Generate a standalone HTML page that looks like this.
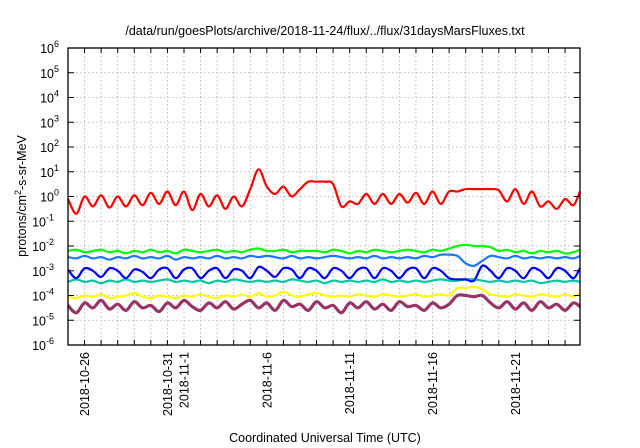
<!DOCTYPE html>
<html><head><meta charset="utf-8"><style>
body{margin:0;background:#fff;}
svg{display:block;font-family:"Liberation Sans",sans-serif;}
</style></head><body>
<svg id="chart" width="640" height="448" viewBox="0 0 640 448">
<text x="325" y="35" text-anchor="middle" font-size="12.5">/data/run/goesPlots/archive/2018-11-24/flux/../flux/31daysMarsFluxes.txt</text>
<g id="grid"></g>
<g id="series"></g>
<rect x="68" y="48" width="512" height="297" fill="none" stroke="#000" stroke-width="1.3"/>
<g id="axes"></g>
<text transform="translate(26,196) rotate(-90)" text-anchor="middle" font-size="12.5">protons/cm<tspan dy="-5" font-size="9">2</tspan><tspan dy="5">-s-sr-MeV</tspan></text>
<text x="325" y="442" text-anchor="middle" font-size="12.5">Coordinated Universal Time (UTC)</text>
</svg>
<script>
const xTickDays=[1,6,7,12,17,22,27];
const xTickLabels=["2018-10-26","2018-10-31","2018-11-1","2018-11-6","2018-11-11","2018-11-16","2018-11-21"];
const yTickExps=[-6,-5,-4,-3,-2,-1,0,1,2,3,4,5,6];
const redLog=[-0.1,-0.7,0,-0.4,0.05,-0.45,0,-0.4,0.05,-0.35,0.15,-0.3,0.2,-0.35,0.2,-0.55,0.1,-0.4,0.05,-0.5,0,-0.4,0.3,1.1,0.4,0.1,0.4,0,0.3,0.6,0.6,0.6,0.5,-0.4,-0.2,-0.3,0.1,-0.3,0.1,-0.3,0.1,-0.25,0.15,-0.3,0.2,-0.3,0.2,0.2,0.3,0.3,0.3,0.3,0.25,-0.2,0.3,-0.3,0.2,-0.4,-0.2,-0.5,-0.1,-0.35,0.2];
const greenLog=[-2.2,-2.15,-2.25,-2.2,-2.15,-2.25,-2.2,-2.3,-2.2,-2.25,-2.15,-2.25,-2.2,-2.3,-2.15,-2.2,-2.25,-2.2,-2.15,-2.25,-2.2,-2.25,-2.15,-2.1,-2.2,-2.2,-2.15,-2.25,-2.2,-2.2,-2.2,-2.25,-2.15,-2.2,-2.3,-2.2,-2.25,-2.15,-2.2,-2.25,-2.2,-2.15,-2.2,-2.25,-2.15,-2.2,-2.1,-2.0,-1.95,-2.0,-2.0,-2.05,-2.2,-2.15,-2.25,-2.2,-2.3,-2.2,-2.25,-2.2,-2.3,-2.25,-2.15];
const skyLog=[-2.45,-2.5,-2.4,-2.5,-2.45,-2.55,-2.45,-2.5,-2.4,-2.5,-2.45,-2.5,-2.4,-2.55,-2.45,-2.5,-2.45,-2.5,-2.4,-2.5,-2.45,-2.5,-2.4,-2.45,-2.4,-2.45,-2.5,-2.4,-2.5,-2.45,-2.5,-2.45,-2.4,-2.45,-2.5,-2.45,-2.5,-2.4,-2.5,-2.45,-2.5,-2.45,-2.5,-2.4,-2.45,-2.35,-2.35,-2.4,-2.7,-2.8,-2.6,-2.4,-2.45,-2.5,-2.4,-2.5,-2.45,-2.5,-2.45,-2.5,-2.45,-2.5,-2.4];
const blueLog=[-2.95,-3.3,-2.9,-3.0,-3.25,-2.9,-3.0,-3.3,-2.95,-3.05,-3.3,-2.95,-2.9,-3.3,-2.95,-2.9,-3.3,-3.0,-2.9,-3.3,-2.95,-3.0,-3.3,-2.85,-3.0,-3.25,-2.9,-2.95,-3.3,-2.9,-3.0,-3.3,-2.9,-3.0,-3.3,-2.95,-2.9,-3.3,-2.9,-3.0,-3.3,-2.95,-2.9,-3.3,-2.9,-3.0,-3.3,-3.35,-3.35,-3.4,-2.8,-3.0,-3.3,-2.9,-3.0,-3.3,-2.9,-3.0,-3.3,-2.9,-3.0,-3.3,-2.9];
const tealLog=[-3.45,-3.35,-3.45,-3.4,-3.5,-3.4,-3.45,-3.35,-3.45,-3.4,-3.45,-3.4,-3.35,-3.45,-3.4,-3.45,-3.4,-3.5,-3.4,-3.45,-3.35,-3.4,-3.45,-3.4,-3.45,-3.4,-3.45,-3.35,-3.4,-3.45,-3.4,-3.5,-3.4,-3.45,-3.4,-3.45,-3.4,-3.45,-3.35,-3.45,-3.4,-3.45,-3.4,-3.45,-3.4,-3.35,-3.4,-3.4,-3.35,-3.35,-3.4,-3.45,-3.4,-3.45,-3.4,-3.45,-3.4,-3.5,-3.45,-3.4,-3.45,-3.4,-3.45];
const yellowLog=[-4.05,-4.1,-4.0,-4.05,-3.95,-4.1,-4.05,-4.0,-3.9,-4.05,-4.1,-4.0,-4.05,-4.1,-4.0,-4.05,-3.95,-4.05,-4.1,-4.0,-4.05,-3.95,-4.05,-3.9,-4.05,-4.0,-3.85,-4.0,-4.05,-3.95,-3.9,-4.0,-4.05,-4.0,-4.05,-3.95,-4.0,-4.05,-3.95,-4.0,-4.05,-4.0,-3.95,-4.05,-4.0,-3.95,-4.0,-3.7,-3.7,-3.65,-3.75,-3.95,-4.0,-4.05,-3.95,-4.0,-4.05,-3.95,-4.0,-4.05,-3.95,-4.05,-3.9];
const purpleLog=[-4.4,-4.7,-4.3,-4.5,-4.2,-4.55,-4.35,-4.6,-4.25,-4.5,-4.4,-4.65,-4.3,-4.5,-4.2,-4.45,-4.6,-4.3,-4.5,-4.25,-4.55,-4.35,-4.2,-4.5,-4.3,-4.6,-4.2,-4.45,-4.35,-4.6,-4.25,-4.5,-4.4,-4.7,-4.3,-4.5,-4.25,-4.55,-4.35,-4.6,-4.25,-4.45,-4.4,-4.6,-4.3,-4.5,-4.35,-4.0,-4.0,-4.05,-4.0,-4.3,-4.5,-4.25,-4.55,-4.3,-4.6,-4.25,-4.5,-4.35,-4.6,-4.3,-4.45];
const seriesColors=["#993366","#ffff00","#00c8a0","#0000ff","#1e78ff","#00ff00","#ff0000"];
const seriesNames=["series-purple","series-yellow","series-teal","series-blue","series-skyblue","series-green","series-red"];
const allSeries=[purpleLog,yellowLog,tealLog,blueLog,skyLog,greenLog,redLog];

const NS="http://www.w3.org/2000/svg";
const X0=68,X1=580,Y0=48,Y1=345,DAYS=30.9;
const xs=d=>X0+(d/DAYS)*(X1-X0);
const ys=e=>Y1-((e+6)/12)*(Y1-Y0);
const grid=document.getElementById('grid'),axes=document.getElementById('axes'),ser=document.getElementById('series');
function mk(tag,attrs,parent){const el=document.createElementNS(NS,tag);for(const k in attrs)el.setAttribute(k,attrs[k]);parent.appendChild(el);return el;}
for(let d=1;d<=30;d++){
  const x=xs(d);
  const g=mk('line',{x1:x,x2:x,y1:Y0,y2:Y1,stroke:'#aaa','stroke-width':0.8,'stroke-dasharray':'1.5,2.5'},grid);
  
  
  const t1=mk('line',{x1:x,x2:x,y1:Y1,y2:Y1-5,stroke:'#000','stroke-width':1},axes);
  
  
  const t2=mk('line',{x1:x,x2:x,y1:Y0,y2:Y0+5,stroke:'#000','stroke-width':1},axes);
  
  
}
yTickExps.forEach(e=>{
  const y=ys(e);
  if(e>-6&&e<6){const g=mk('line',{x1:X0,x2:X1,y1:y,y2:y,stroke:'#aaa','stroke-width':0.8,'stroke-dasharray':'1.5,2.5'},grid);
  
  }
  const t=mk('line',{x1:X0,x2:X0+6,y1:y,y2:y,stroke:'#000','stroke-width':1},axes);
  
  
  const t2=mk('line',{x1:X1,x2:X1-6,y1:y,y2:y,stroke:'#000','stroke-width':1},axes);
  
  
  const tx=mk('text',{x:57,y:y+5,'text-anchor':'end','font-size':12.5},axes);
  
  
  tx.innerHTML='10<tspan dy="-6" font-size="9">'+e+'</tspan>';
  tx.setAttribute('x',64-(String(e).length*5));
});
xTickDays.forEach((d,i)=>{
  const x=xs(d);
  const tx=mk('text',{transform:`translate(${x+4.5},352) rotate(-90)`,'text-anchor':'end','font-size':12.5},axes);
  
  
  tx.textContent=xTickLabels[i];
});
allSeries.forEach((arr,si)=>{
  const pts=arr.map((v,i)=>[xs(Math.min(i*0.5,DAYS)),ys(v)]);
  let d='M'+pts[0][0].toFixed(1)+','+pts[0][1].toFixed(1);
  for(let i=0;i<pts.length-1;i++){
    const p0=pts[Math.max(0,i-1)],p1=pts[i],p2=pts[i+1],p3=pts[Math.min(pts.length-1,i+2)];
    const c1=[p1[0]+(p2[0]-p0[0])/6,p1[1]+(p2[1]-p0[1])/6],c2=[p2[0]-(p3[0]-p1[0])/6,p2[1]-(p3[1]-p1[1])/6];
    d+=`C${c1[0].toFixed(1)},${c1[1].toFixed(1)} ${c2[0].toFixed(1)},${c2[1].toFixed(1)} ${p2[0].toFixed(1)},${p2[1].toFixed(1)}`;
  }
  const p=mk('path',{d:d,fill:'none',stroke:seriesColors[si],'stroke-width':si===0?3.2:2.2,'stroke-linejoin':'round'},ser);
  
  
});
</script>
</body></html>
